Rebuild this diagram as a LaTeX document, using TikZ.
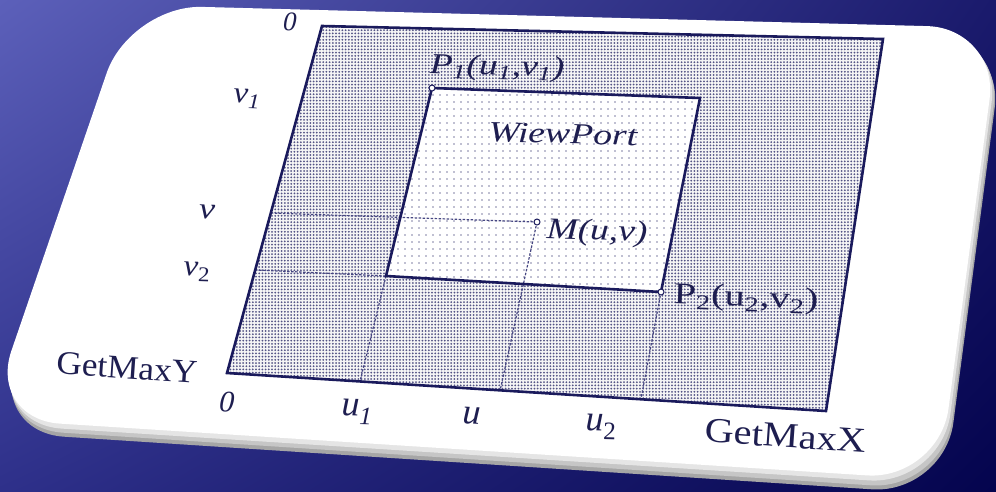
\documentclass[tikz,border=0pt]{standalone}
\usepackage{fontspec}
\setmainfont{Liberation Serif}
\usetikzlibrary{calc,patterns.meta,shadings}
\definecolor{bgTL}{RGB}{92,96,186}
\definecolor{bgTR}{RGB}{26,26,108}
\definecolor{bgBL}{RGB}{46,48,138}
\definecolor{bgBR}{RGB}{4,4,78}
\definecolor{navy}{RGB}{26,26,92}
\definecolor{txt}{RGB}{30,30,80}
\definecolor{guidec}{RGB}{70,70,130}
\newcommand\fs[1]{\fontsize{#1}{#1}\selectfont}
\tikzset{
  border/.style={draw=navy, line width=2.6pt, line join=miter},
  guide/.style={draw=guidec, line width=1.2pt, dash pattern=on 2.5pt off 1.5pt},
  pt/.style={circle, draw=navy, line width=1pt, fill=white, inner sep=0pt, minimum size=6pt},
  lbl/.style={text=txt, inner sep=0pt},
}
\begin{document}
\begin{tikzpicture}[x=1pt,y=-1pt]
\useasboundingbox (0,0) rectangle (996,491);
% background
\shade[upper left=bgTL, upper right=bgTR, lower left=bgBL, lower right=bgBR] (0,0) rectangle (996,491);
% card rim and face
\fill[gray!70, rounded corners=72pt] (133,14) -- (1004,37) -- (944,494) -- (-8,432) -- cycle;
\fill[gray!45, rounded corners=72pt] (132,11) -- (1003,34) -- (943,490) -- (-9,428) -- cycle;
\fill[gray!20, rounded corners=72pt] (131,8) -- (1001,31) -- (941,485) -- (-10,424) -- cycle;
\fill[white, rounded corners=72pt] (130,5) -- (999,28) -- (939,480) -- (-12,419) -- cycle;
% screen corners
\coordinate (oTL) at (322,26);
\coordinate (oTR) at (883,39);
\coordinate (oBR) at (826,411);
\coordinate (oBL) at (227,373);
% viewport corners
\coordinate (iTL) at (432,88);
\coordinate (iTR) at (700,98);
\coordinate (iBR) at (661,292);
\coordinate (iBL) at (386,276);
\coordinate (Mp) at (537,222);
% guide feet
\coordinate (vL) at ($(oTL)!0.539!(oBL)$);
\coordinate (v2L) at ($(oTL)!0.703!(oBL)$);
\coordinate (u1B) at ($(oBL)!0.222!(oBR)$);
\coordinate (uB) at ($(oBL)!0.456!(oBR)$);
\coordinate (u2B) at ($(oBL)!0.691!(oBR)$);
% fills
\fill[gray!8] (oTL) -- (oTR) -- (oBR) -- (oBL) -- cycle;
\fill[pattern={Dots[distance=3.2pt, radius=1pt]}, pattern color=navy!75] (oTL) -- (oTR) -- (oBR) -- (oBL) -- cycle;
\fill[white] (iTL) -- (iTR) -- (iBR) -- (iBL) -- cycle;
\begin{scope}
  \clip (iTL) -- (iTR) -- (iBR) -- (iBL) -- cycle;
  \foreach \i in {0,...,46} {
    \foreach \j in {0,...,31} {
      \fill[navy!55] (384+7*\i,88+7*\j) circle (0.8pt);
    }
  }
\end{scope}
% guides
\draw[guide] (vL) -- (Mp);
\draw[guide] (v2L) -- (iBL);
\draw[guide] (iBL) -- (u1B);
\draw[guide] (Mp) -- (uB);
\draw[guide] (iBR) -- (u2B);
% borders
\draw[border] (oTL) -- (oTR) -- (oBR) -- (oBL) -- cycle;
\draw[border] (iTL) -- (iTR) -- (iBR) -- (iBL) -- cycle;
% points
\node[pt] (P1) at (iTL) {};
\node[pt] (M) at (Mp) {};
\node[pt] (P2) at (iBR) {};
% labels
\node[lbl, font=\fs{27}\itshape, rotate=-2] (top0) at (290,22) {0};
\node[lbl, font=\fs{30}\itshape, rotate=-2, xscale=1.1] (lv1) at (247,99) {v\textsubscript{1}};
\node[lbl, font=\fs{30}\itshape, rotate=-2, xscale=1.2] (lv) at (207,212) {v};
\node[lbl, font=\fs{30}\itshape, rotate=-2, xscale=1.1] (lv2) at (197,272) {v\textsubscript{\upshape 2}};
\node[lbl, font=\fs{33}, rotate=-4, xscale=1.07] (gmy) at (127,368) {GetMaxY};
\node[lbl, font=\fs{30}\itshape, rotate=-3] (bot0) at (227,402) {0};
\node[lbl, font=\fs{36}\itshape, rotate=-1.5] (lu1) at (357,412) {u\textsubscript{1}};
\node[lbl, font=\fs{36}\itshape, rotate=-3] (lu) at (472,416) {u};
\node[lbl, font=\fs{36}\itshape, rotate=-1.5] (lu2) at (601,427) {u\textsubscript{\upshape 2}};
\node[lbl, font=\fs{35}, rotate=-4, xscale=1.15] (gmx) at (786,436) {GetMaxX};
\node[lbl, font=\fs{29}\itshape, rotate=-1.5, xscale=1.3] (lP1) at (497,68) {P\textsubscript{1}(u\textsubscript{1},v\textsubscript{1})};
\node[lbl, font=\fs{29}\itshape, rotate=-1.5, xscale=1.3] (lwp) at (563,134) {WiewPort};
\node[lbl, font=\fs{30}\itshape, rotate=-2, xscale=1.25] (lM) at (597,233) {M(u,v)};
\node[lbl, font=\fs{30}, rotate=-2, xscale=1.35] (lP2) at (746,299) {P\textsubscript{2}(u\textsubscript{2},v\textsubscript{2})};
\end{tikzpicture}
\end{document}
